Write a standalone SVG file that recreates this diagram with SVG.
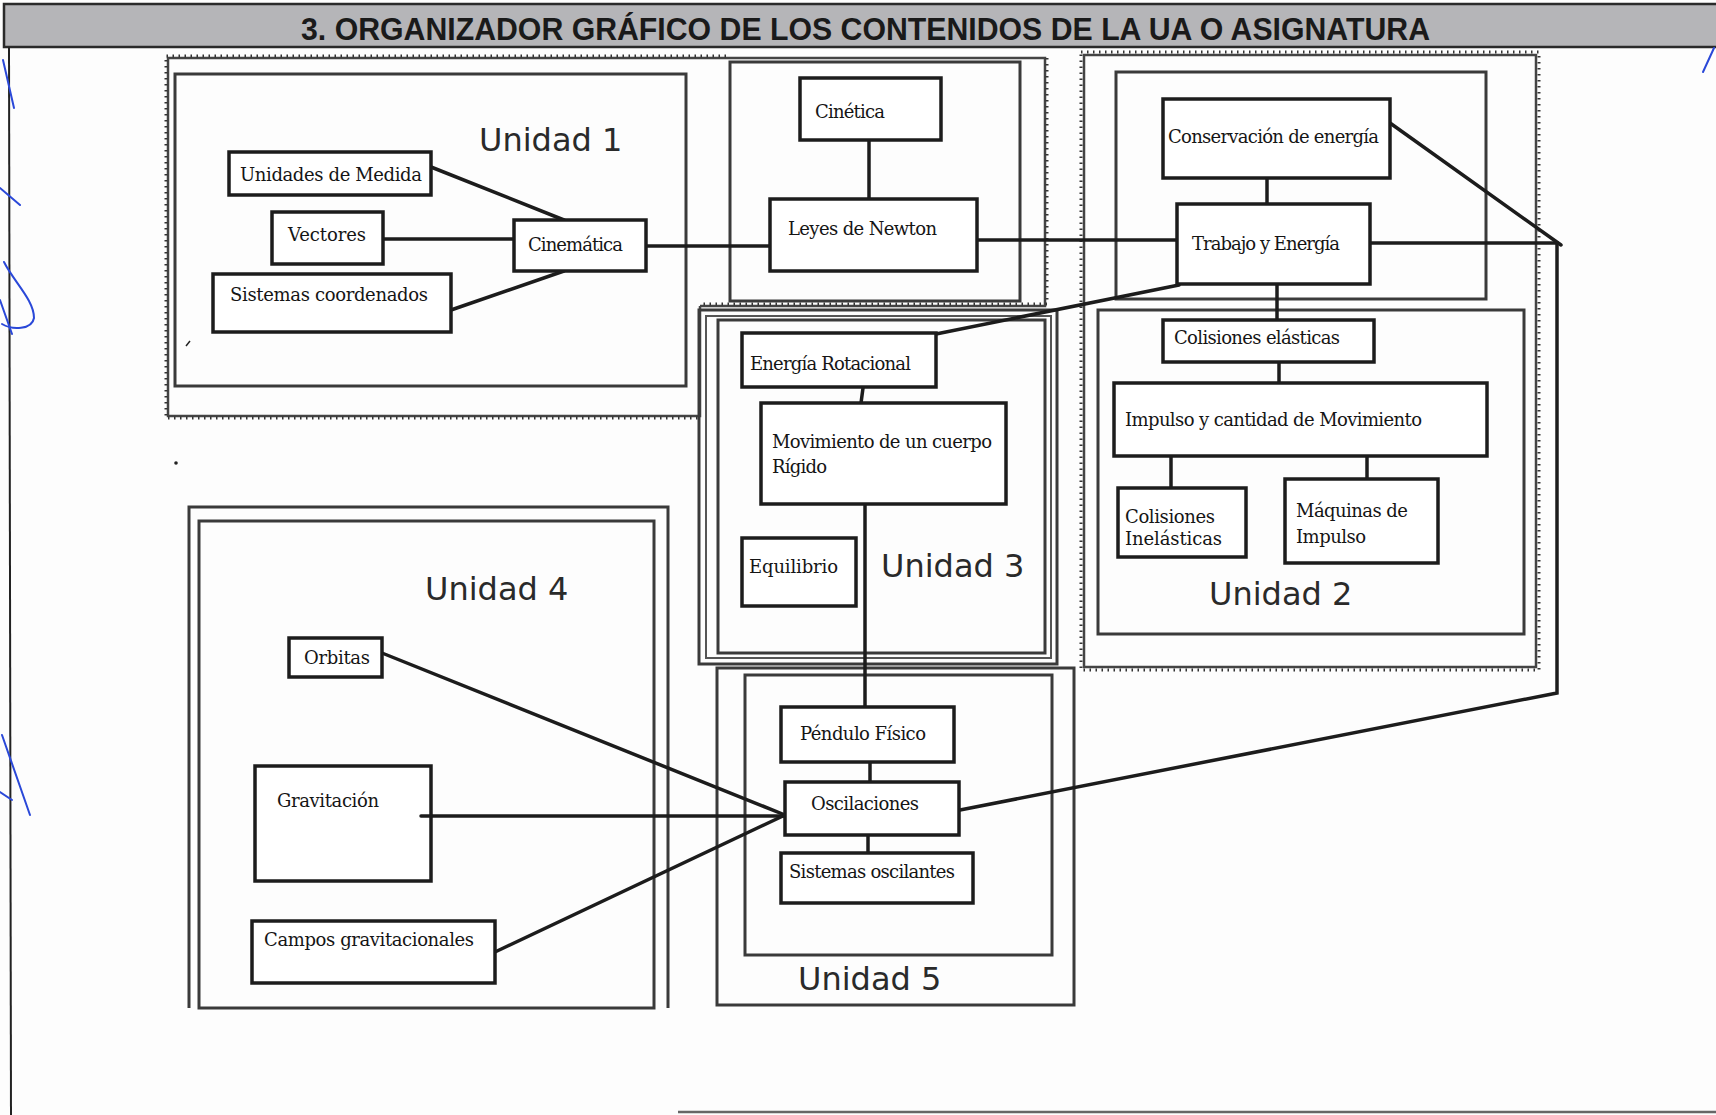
<svg xmlns="http://www.w3.org/2000/svg" width="1716" height="1115" viewBox="0 0 1716 1115">
<style>
.bg{fill:#fdfdfd}
.node rect{fill:#ffffff;stroke:#1c1c1c;stroke-width:3.5}
.node text{font-family:"DejaVu Serif","Liberation Serif",serif;font-size:18px;fill:#151515}
.unit{fill:none;stroke:#3a3a3a;stroke-width:3}
.unitthin{fill:none;stroke:#555;stroke-width:2}
.dotted{fill:none;stroke:#444;stroke-width:2.5}
.dots{fill:none;stroke:#333;stroke-width:3;stroke-dasharray:1.5 4.5}
.ulabel{font-family:"DejaVu Sans","Liberation Sans",sans-serif;font-size:32px;fill:#2a2a2a}
.conn line,.conn polyline{fill:none;stroke:#1c1c1c;stroke-width:3.5;stroke-linecap:round;stroke-linejoin:miter}
.blue{fill:none;stroke:#2a48d8;stroke-width:2;stroke-linecap:round}
</style>
<rect class="bg" x="0" y="0" width="1716" height="1115"/>

<!-- header -->
<g id="header">
<rect x="4" y="4" width="1720" height="43" fill="#b5b5b8" stroke="#2a2a2a" stroke-width="2.5"/>
<text x="301" y="40" textLength="1129" lengthAdjust="spacingAndGlyphs" font-family="Liberation Sans, Arial, sans-serif" font-weight="bold" font-size="32" fill="#1a1a1a">3. ORGANIZADOR GRÁFICO DE LOS CONTENIDOS DE LA UA O ASIGNATURA</text>
</g>
<line x1="9" y1="47" x2="11" y2="1115" stroke="#222" stroke-width="2"/>
<line x1="678" y1="1112" x2="1716" y2="1112" stroke="#666" stroke-width="2.5"/>

<!-- unit frames -->
<g id="unidad1-frame">
<path class="dotted" d="M726,58 L168,58 L168,416 L700,416 L700,306"/>
<path class="dots" d="M726,56 L166,56 L166,418 L700,418"/>
<rect class="unit" x="175" y="74" width="511" height="312"/>
<text class="ulabel" x="479" y="151">Unidad 1</text>
</g>
<g id="leyes-frame">
<path class="dotted" d="M726,58 L1045,58 L1045,306 L700,306"/>
<path class="dots" d="M1047,58 L1047,304 L700,304"/>
<rect class="unit" x="730" y="62" width="290" height="239"/>
</g>
<g id="unidad2-frame">
<rect class="dotted" x="1084" y="55" width="452" height="612"/>
<rect class="dots" x="1081" y="52" width="458" height="618"/>
<rect class="unit" x="1116" y="72" width="370" height="227"/>
<rect class="unit" x="1098" y="310" width="426" height="324"/>
<text class="ulabel" x="1209" y="605">Unidad 2</text>
</g>
<g id="unidad3-frame">
<rect class="unit" x="699" y="310" width="358" height="354"/>
<rect class="unitthin" x="706" y="316" width="345" height="342"/>
<rect class="unit" x="718" y="320" width="327" height="333"/>
<text class="ulabel" x="881" y="577">Unidad 3</text>
</g>
<g id="unidad4-frame">
<path class="unit" d="M189,1008 L189,507 L668,507 L668,1008"/>
<rect class="unit" x="199" y="521" width="455" height="487"/>
<text class="ulabel" x="425" y="600">Unidad 4</text>
</g>
<g id="unidad5-frame">
<rect class="unit" x="717" y="668" width="357" height="337"/>
<rect class="unit" x="745" y="675" width="307" height="280"/>
<text class="ulabel" x="798" y="990">Unidad 5</text>
</g>

<!-- connectors -->
<g id="connectors" class="conn">
<line x1="431" y1="167" x2="564" y2="220"/>
<line x1="383" y1="239" x2="514" y2="239"/>
<line x1="451" y1="310" x2="564" y2="271"/>
<line x1="646" y1="246" x2="770" y2="246"/>
<line x1="869" y1="140" x2="869" y2="199"/>
<line x1="977" y1="240" x2="1177" y2="240"/>
<line x1="1267" y1="178" x2="1267" y2="204"/>
<line x1="1277" y1="284" x2="1277" y2="320"/>
<line x1="1279" y1="362" x2="1279" y2="383"/>
<line x1="1171" y1="456" x2="1171" y2="488"/>
<line x1="1367" y1="456" x2="1367" y2="479"/>
<polyline points="1370,243 1557,243 1557,693 960,810"/>
<line x1="1390" y1="123" x2="1561" y2="245"/>
<line x1="1179" y1="285" x2="936" y2="334"/>
<line x1="863" y1="388" x2="861" y2="403"/>
<line x1="865" y1="504" x2="865" y2="707"/>
<line x1="870" y1="762" x2="870" y2="782"/>
<line x1="868" y1="835" x2="868" y2="853"/>
<line x1="382" y1="653" x2="785" y2="815"/>
<line x1="421" y1="816" x2="785" y2="816"/>
<line x1="495" y1="952" x2="785" y2="815"/>
</g>

<!-- nodes -->
<g id="n-unidades" class="node"><rect x="229" y="152" width="202" height="43"/><text x="240" y="181" textLength="182">Unidades de Medida</text></g>
<g id="n-vectores" class="node"><rect x="272" y="212" width="111" height="52"/><text x="288" y="241" textLength="78">Vectores</text></g>
<g id="n-sistemas-coord" class="node"><rect x="213" y="274" width="238" height="58"/><text x="230" y="301" textLength="198">Sistemas coordenados</text></g>
<g id="n-cinematica" class="node"><rect x="514" y="220" width="132" height="51"/><text x="528" y="251" textLength="95">Cinemática</text></g>
<g id="n-cinetica" class="node"><rect x="800" y="78" width="141" height="62"/><text x="815" y="118" textLength="70">Cinética</text></g>
<g id="n-leyes" class="node"><rect x="770" y="199" width="207" height="72"/><text x="788" y="235" textLength="149">Leyes de Newton</text></g>
<g id="n-conservacion" class="node"><rect x="1163" y="99" width="227" height="79"/><text x="1168" y="143" textLength="211">Conservación de energía</text></g>
<g id="n-trabajo" class="node"><rect x="1177" y="204" width="193" height="80"/><text x="1192" y="250" textLength="148">Trabajo y Energía</text></g>
<g id="n-col-elasticas" class="node"><rect x="1163" y="320" width="211" height="42"/><text x="1174" y="344" textLength="166">Colisiones elásticas</text></g>
<g id="n-impulso" class="node"><rect x="1114" y="383" width="373" height="73"/><text x="1125" y="426" textLength="297">Impulso y cantidad de Movimiento</text></g>
<g id="n-col-inelasticas" class="node"><rect x="1118" y="488" width="128" height="69"/><text x="1125" y="523" textLength="90">Colisiones</text><text x="1125" y="545" textLength="97">Inelásticas</text></g>
<g id="n-maquinas" class="node"><rect x="1285" y="479" width="153" height="84"/><text x="1296" y="517" textLength="112">Máquinas de</text><text x="1296" y="543" textLength="70">Impulso</text></g>
<g id="n-energia-rot" class="node"><rect x="742" y="333" width="194" height="54"/><text x="750" y="370" textLength="161">Energía Rotacional</text></g>
<g id="n-movimiento" class="node"><rect x="761" y="403" width="245" height="101"/><text x="772" y="448" textLength="220">Movimiento de un cuerpo</text><text x="772" y="473" textLength="55">Rígido</text></g>
<g id="n-equilibrio" class="node"><rect x="742" y="538" width="114" height="68"/><text x="749" y="573" textLength="89">Equilibrio</text></g>
<g id="n-pendulo" class="node"><rect x="781" y="707" width="173" height="55"/><text x="800" y="740" textLength="126">Péndulo Físico</text></g>
<g id="n-oscilaciones" class="node"><rect x="785" y="782" width="174" height="53"/><text x="811" y="810" textLength="108">Oscilaciones</text></g>
<g id="n-sist-osc" class="node"><rect x="781" y="853" width="192" height="50"/><text x="789" y="878" textLength="166">Sistemas oscilantes</text></g>
<g id="n-orbitas" class="node"><rect x="289" y="638" width="93" height="39"/><text x="304" y="664" textLength="66">Orbitas</text></g>
<g id="n-gravitacion" class="node"><rect x="255" y="766" width="176" height="115"/><text x="277" y="807" textLength="102">Gravitación</text><line x1="421" y1="816" x2="431" y2="816" stroke="#1c1c1c" stroke-width="3.5" stroke-linecap="round"/></g>
<g id="n-campos" class="node"><rect x="252" y="921" width="243" height="62"/><text x="264" y="946" textLength="210">Campos gravitacionales</text></g>

<!-- specks -->
<circle cx="176" cy="463" r="1.8" fill="#222"/>
<line x1="186" y1="346" x2="190" y2="341" stroke="#222" stroke-width="1.5"/>

<!-- handwritten marks -->
<g id="handwriting">
<path class="blue" d="M3,60 L14,108"/>
<path class="blue" d="M0,188 L20,205"/>
<path class="blue" d="M4,262 C14,282 34,300 34,318 C32,330 12,330 2,324"/>
<path class="blue" d="M0,300 L12,334"/>
<path class="blue" d="M2,735 L30,815"/>
<path class="blue" d="M0,792 L12,800"/>
<path class="blue" d="M1714,48 L1703,72"/>
</g>
</svg>
